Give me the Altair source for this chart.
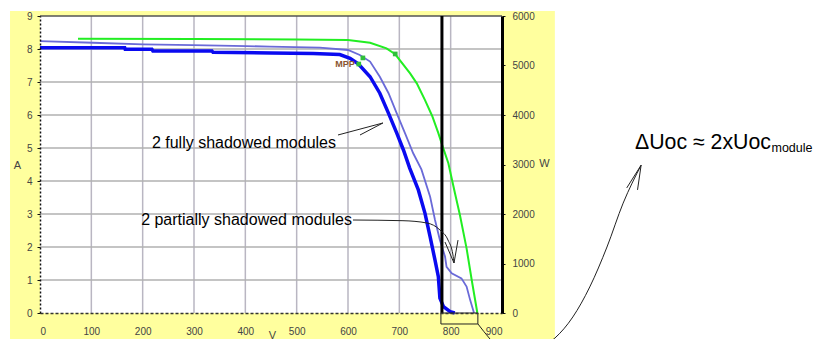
import altair as alt
import pandas as pd

FONT = "Liberation Sans"

# ---- I-V curves (V in volts, I in amperes) ----
GREEN_V = [74, 300, 500, 600, 643, 675, 692, 721, 734, 750, 764, 776, 784.5, 795.5, 808.4, 818, 831, 841, 852]
GREEN_I = [8.31, 8.30, 8.29, 8.27, 8.19, 8.02, 7.84, 7.26, 6.96, 6.45, 5.97, 5.45, 5.04, 4.54, 3.63, 2.97, 1.96, 1.0, 0.0]

DARK_V = [0, 165, 166, 218, 220, 335, 337, 450, 532, 584, 604, 620, 643, 662, 679, 695, 708, 720, 737, 750, 760, 769.5, 776, 779, 786, 799, 808]
DARK_I = [8.04, 8.04, 7.99, 7.99, 7.94, 7.94, 7.90, 7.88, 7.86, 7.83, 7.72, 7.55, 7.16, 6.66, 6.05, 5.45, 4.94, 4.40, 3.73, 3.02, 2.31, 1.6, 1.1, 0.45, 0.19, 0.04, 0.0]

LIGHT_V = [0, 103, 201, 298, 402, 448, 545, 600, 623, 643, 662, 679, 695, 711, 727, 743, 760, 769.5, 779, 789, 792, 802, 821, 831, 838, 845.5]
LIGHT_I = [8.24, 8.19, 8.14, 8.12, 8.09, 8.07, 8.04, 7.97, 7.82, 7.62, 7.16, 6.66, 6.05, 5.45, 4.84, 4.35, 3.52, 2.82, 2.21, 1.71, 1.40, 1.2, 1.05, 0.8, 0.39, 0.0]

# MPP markers
MPP_V = [621, 629, 692]
MPP_I = [7.545, 7.73, 7.85]

# axes ticks
X_TICKS = [0, 100, 200, 300, 400, 500, 600, 700, 800, 900]
Y_TICKS = [0, 1, 2, 3, 4, 5, 6, 7, 8, 9]
W_TICKS = [0, 1000, 2000, 3000, 4000, 5000, 6000]
V_GRID = [100, 200, 300, 400, 500, 600, 700, 800]
I_GRID = [1, 2, 3, 4, 5, 6, 7, 8]

# annotation positions (data units)
UOC_LINE_V = 783
BOX_V = [781, 853]
BOX_I = [0, -0.333]
BG_V = [-58.4, 1003]
BG_I = [9.15, -1.0]

FULLY_ARROW = {"f1": ([580.5, 668], [5.394, 5.758]), "f2": ([623.4, 668], [5.394, 5.758])}
PARTIAL_CURVE_V = [609.7, 707.1, 753.9, 779.2, 794.8, 804.5, 806.5]
PARTIAL_CURVE_I = [2.818, 2.797, 2.727, 2.515, 2.212, 1.758, 1.515]
PARTIAL_BARBS = {"p1": ([789, 806.5], [2.15, 1.515]), "p2": ([814.3, 806.5], [2.21, 1.515])}
UOC_CURVE_V = [853.2, 876.6, 896, 935, 974, 1003, 1038, 1071, 1104.5, 1136, 1171]
UOC_CURVE_I = [-0.333, -0.788, -1.12, -1.30, -1.06, -0.76, -0.12, 0.79, 2.0, 3.33, 4.48]
UOC_BARBS = {"u1": ([1143, 1171], [3.79, 4.48]), "u2": ([1164, 1171], [3.73, 4.48])}

# (text, V, I, font size, align)
TEXTS = [
    ("2 fully shadowed modules", 218, 5.0, 16, "left"),
    ("2 partially shadowed modules", 197, 2.667, 16, "left"),
    ("\u0394Uoc \u2248 2xUoc", 1424, 4.96, 21.3, "right"),
    ("module", 1425, 4.89, 12.5, "left"),
]
MPP_LABEL = ("MPP", 575, 7.545)

W = 462
H = 297

xs = alt.Scale(domain=[0, 900], nice=False, zero=False)
ys = alt.Scale(domain=[0, 9], nice=False, zero=False)

xaxis = alt.Axis(values=X_TICKS, title="V", grid=False, tickSize=0, labelPadding=13,
                 labelFont=FONT, labelFontSize=10, labelColor="#444",
                 domainColor="#333", domainDash=[3, 2], domainWidth=1.5,
                 titleFont=FONT, titleFontSize=11, titleColor="#444", titleFontWeight="normal",
                 titleX=232, titleY=22, titleBaseline="middle", titleAlign="center", zindex=1)
yaxis = alt.Axis(values=Y_TICKS, title="A", grid=False, tickSize=3, tickColor="#111", labelPadding=5,
                 labelFont=FONT, labelFontSize=10, labelColor="#444",
                 domainColor="#111", domainDash=[2, 2], domainWidth=1.5,
                 titleFont=FONT, titleFontSize=11, titleColor="#444", titleFontWeight="normal",
                 titleAngle=0, titleX=-23, titleY=149, titleBaseline="middle", titleAlign="center", zindex=1)
waxis = alt.Axis(values=W_TICKS, title="W", orient="right", grid=False, tickSize=3, tickColor="#111",
                 format="d",
                 labelPadding=7, labelFont=FONT, labelFontSize=10, labelColor="#444",
                 domainColor="#000", domainWidth=3,
                 titleFont=FONT, titleFontSize=11, titleColor="#444", titleFontWeight="normal",
                 titleAngle=0, titleX=42, titleY=147, titleBaseline="middle", titleAlign="center", zindex=1)

X = alt.X("V:Q", scale=xs, axis=xaxis)
Y = alt.Y("I:Q", scale=ys, axis=yaxis)


def line_df(vs, is_):
    return pd.DataFrame({"V": vs, "I": is_, "idx": list(range(len(vs)))})


def seg_df(d):
    rows = []
    for k, (vs, is_) in d.items():
        for j, (v, i) in enumerate(zip(vs, is_)):
            rows.append({"seg": k, "V": v, "I": i, "idx": j})
    return pd.DataFrame(rows)


bg = alt.Chart(pd.DataFrame({"V": [BG_V[0]], "V2": [BG_V[1]], "I": [BG_I[0]], "I2": [BG_I[1]]})).mark_rect(
    color="#ffff9e").encode(x=X, x2="V2:Q", y=Y, y2="I2:Q")
plot_bg = alt.Chart(pd.DataFrame({"V": [0], "V2": [900], "I": [0], "I2": [9]})).mark_rect(
    color="#ffffff").encode(x=X, x2="V2:Q", y=Y, y2="I2:Q")

vgrid = alt.Chart(pd.DataFrame({"V": V_GRID, "I": [0] * len(V_GRID), "I2": [9] * len(V_GRID)})).mark_rule(
    color="#b9b6c2", strokeWidth=1.5).encode(x=X, y=Y, y2="I2:Q")
hgrid = alt.Chart(pd.DataFrame({"I": I_GRID, "V": [0] * len(I_GRID), "V2": [900] * len(I_GRID)})).mark_rule(
    color="#b0b0b0", strokeWidth=1.5).encode(y=Y, x=X, x2="V2:Q")
top_border = alt.Chart(pd.DataFrame({"I": [9], "V": [0], "V2": [900]})).mark_rule(
    color="#555", strokeWidth=1.5).encode(y=Y, x=X, x2="V2:Q")

green = alt.Chart(line_df(GREEN_V, GREEN_I)).mark_line(color="#22ee22", strokeWidth=2).encode(
    x=X, y=Y, order="idx:Q")
light = alt.Chart(line_df(LIGHT_V, LIGHT_I)).mark_line(color="#6a6ad8", strokeWidth=1.8).encode(
    x=X, y=Y, order="idx:Q")
dark = alt.Chart(line_df(DARK_V, DARK_I)).mark_line(color="#0a0af0", strokeWidth=3.5).encode(
    x=X, y=Y, order="idx:Q")

mpp = alt.Chart(pd.DataFrame({"V": MPP_V, "I": MPP_I})).mark_point(
    shape="square", size=22, filled=True, color="#2fbf3a", opacity=1).encode(x=X, y=Y)
mpp_text = alt.Chart(pd.DataFrame({"t": [MPP_LABEL[0]], "V": [MPP_LABEL[1]], "I": [MPP_LABEL[2]]})).mark_text(
    font=FONT, fontSize=9, fontWeight="bold", color="#8a5530", align="left", baseline="middle").encode(
    x=X, y=Y, text="t:N")

vline = alt.Chart(pd.DataFrame({"V": [UOC_LINE_V], "I": [0], "I2": [9]})).mark_rule(
    color="#000", strokeWidth=3).encode(x=X, y=Y, y2="I2:Q")
box = alt.Chart(pd.DataFrame({"V": [BOX_V[0]], "V2": [BOX_V[1]], "I": [BOX_I[0]], "I2": [BOX_I[1]]})).mark_rect(
    fillOpacity=0, stroke="#222", strokeWidth=1).encode(x=X, x2="V2:Q", y=Y, y2="I2:Q")

arrows = alt.Chart(pd.concat([seg_df(FULLY_ARROW), seg_df(PARTIAL_BARBS), seg_df(UOC_BARBS)])).mark_line(
    color="#222", strokeWidth=1).encode(x=X, y=Y, detail="seg:N", order="idx:Q")
partial_curve = alt.Chart(line_df(PARTIAL_CURVE_V, PARTIAL_CURVE_I)).mark_line(
    color="#222", strokeWidth=1, interpolate="monotone").encode(x=X, y=Y, order="idx:Q")
uoc_curve = alt.Chart(line_df(UOC_CURVE_V, UOC_CURVE_I)).mark_line(
    color="#222", strokeWidth=1, interpolate="monotone").encode(x=X, y=Y, order="idx:Q")

text_layers = []
for t, v, i, fs, al in TEXTS:
    text_layers.append(
        alt.Chart(pd.DataFrame({"t": [t], "V": [v], "I": [i]})).mark_text(
            font=FONT, fontSize=fs, color="#000", align=al, baseline="alphabetic").encode(
            x=X, y=Y, text="t:N"))

inner = alt.layer(bg, plot_bg, vgrid, hgrid, top_border, green, light, dark, mpp, mpp_text,
                  vline, box, arrows, partial_curve, uoc_curve, *text_layers)

wlayer = alt.Chart(pd.DataFrame({"W": [0, 6000]})).mark_point(opacity=0).encode(
    y=alt.Y("W:Q", scale=alt.Scale(domain=[0, 6000], nice=False, zero=False), axis=waxis))

chart = alt.layer(inner, wlayer).resolve_scale(y="independent").properties(
    width=W, height=H,
    autosize=alt.AutoSizeParams(type="none"),
    padding={"left": 32, "top": 8, "right": 311, "bottom": 26},
    background="#ffffff",
).configure_view(stroke=None)

chart.save("out.html", embed_options={"renderer": "svg", "actions": False})
